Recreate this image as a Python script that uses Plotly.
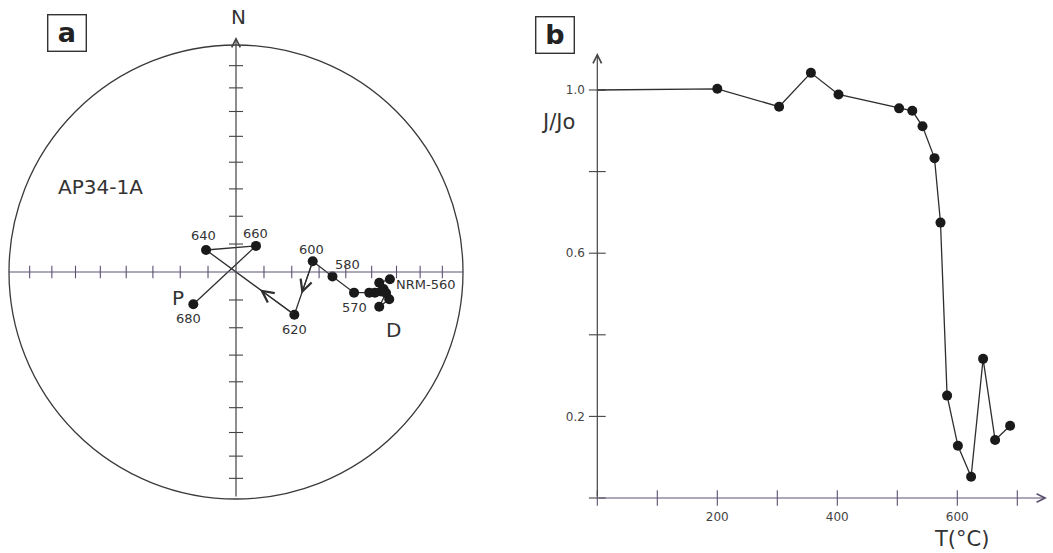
import numpy as np
import plotly.graph_objects as go

W, H = 1053, 553

# ---------------- Panel a : equal-area projection (unit radius) ----------------
steps_a = ["NRM", "200", "300", "350", "400", "500", "520", "540", "560",
           "570", "580", "600", "620", "640", "660", "680"]
east_a = [0.678, 0.631, 0.650, 0.675, 0.631, 0.661, 0.639, 0.612, 0.587,
          0.520, 0.425, 0.338, 0.257, -0.132, 0.088, -0.188]
north_a = [-0.032, -0.047, -0.075, -0.120, -0.153, -0.093, -0.086, -0.091, -0.091,
           -0.091, -0.020, 0.047, -0.188, 0.097, 0.115, -0.142]
label_steps_a = ["NRM", "570", "580", "600", "620", "640", "660", "680"]
label_text_a = ["NRM-560", "570", "580", "600", "620", "640", "660", "680"]
net_incl_ticks = [10, 20, 30, 40, 50, 60, 70, 80]
sample_name = "AP34-1A"

# ---------------- Panel b : normalised intensity vs temperature ----------------
temp_b = [0, 200, 303, 356, 402, 503, 525, 542, 562, 572, 583, 601, 623, 643, 663, 688]
jj0_b = [1.0, 1.003, 0.959, 1.042, 0.989, 0.955, 0.949, 0.911, 0.833, 0.675,
         0.251, 0.128, 0.052, 0.341, 0.142, 0.177]
xtick_vals_b = [0, 100, 200, 300, 400, 500, 600, 700]
xtick_text_b = ["", "", "200", "", "400", "", "600", ""]
ytick_vals_b = [0, 0.2, 0.4, 0.6, 0.8, 1.0]
ytick_text_b = ["", "0.2", "", "0.6", "", "1.0"]

# ---------------- geometry (pixels) ----------------
CX, CY, R = 236.0, 272.0, 227.0
A_RIGHT = 480.0
X0B, Y0B = 597.3, 498.0
PX_PER_C, PX_PER_J = 0.6, 408.0
B_TOP = 40.0

FONT = "DejaVu Sans"
INK = "#2e2e2e"
AXC = "#5c5070"
TXT = "#333333"


def px(x):
    return x / W


def py(y):
    return 1 - y / H


def da(xp, yp):
    return (xp - CX) / R, (CY - yp) / R


fig = go.Figure()

# net tick positions (equal-area)
r_ticks = [np.sqrt(2) * np.sin(np.radians((90 - i) / 2)) for i in net_incl_ticks]
tx = [s * r for r in r_ticks for s in (-1, 1)]

fig.add_trace(go.Scatter(x=tx, y=[0] * len(tx), mode="markers", cliponaxis=False,
                         marker=dict(symbol="line-ns", size=9, line=dict(width=1.1, color=AXC)),
                         xaxis="x", yaxis="y", hoverinfo="skip"))
fig.add_trace(go.Scatter(x=[0] * len(tx), y=tx, mode="markers", cliponaxis=False,
                         marker=dict(symbol="line-ew", size=10, line=dict(width=1.1, color="#444")),
                         xaxis="x", yaxis="y", hoverinfo="skip"))

# demag path
fig.add_trace(go.Scatter(x=east_a, y=north_a, mode="lines+markers", cliponaxis=False,
                         line=dict(color=INK, width=1.3),
                         marker=dict(size=10, color="#1a1a1a"),
                         xaxis="x", yaxis="y", hoverinfo="skip"))

# panel b ticks
fig.add_trace(go.Scatter(x=xtick_vals_b, y=[0] * len(xtick_vals_b), mode="markers", cliponaxis=False,
                         marker=dict(symbol="line-ns", size=11, line=dict(width=1.1, color=AXC)),
                         xaxis="x2", yaxis="y2", hoverinfo="skip"))
fig.add_trace(go.Scatter(x=[0] * len(ytick_vals_b), y=ytick_vals_b, mode="markers", cliponaxis=False,
                         marker=dict(symbol="line-ew", size=12, line=dict(width=1.1, color="#444")),
                         xaxis="x2", yaxis="y2", hoverinfo="skip"))
# panel b curve
fig.add_trace(go.Scatter(x=temp_b, y=jj0_b, mode="lines", cliponaxis=False,
                         line=dict(color=INK, width=1.3),
                         xaxis="x2", yaxis="y2", hoverinfo="skip"))
fig.add_trace(go.Scatter(x=temp_b[1:], y=jj0_b[1:], mode="markers", cliponaxis=False,
                         marker=dict(size=10, color="#1a1a1a"),
                         xaxis="x2", yaxis="y2", hoverinfo="skip"))

shapes = [
    dict(type="circle", xref="x", yref="y", x0=-1, x1=1, y0=-1, y1=1,
         line=dict(color="#3a3a3a", width=1.3)),
    dict(type="line", xref="x", yref="y", x0=-1, x1=1, y0=0, y1=0,
         line=dict(color=AXC, width=1.2)),
]

ann = []
# axis arrows
ann.append(dict(x=0, y=(CY - 37) / R, ax=0, ay=-0.996, xref="x", yref="y", axref="x", ayref="y",
                text="", showarrow=True, arrowhead=5, arrowsize=1.4, arrowwidth=1.2,
                arrowcolor="#444", standoff=0, startstandoff=0))
ann.append(dict(x=(1047 - X0B) / PX_PER_C, y=0, ax=0, ay=0, xref="x2", yref="y2", axref="x2", ayref="y2",
                text="", showarrow=True, arrowhead=5, arrowsize=1.4, arrowwidth=1.2,
                arrowcolor=AXC, standoff=0, startstandoff=0))
ann.append(dict(x=0, y=(Y0B - 53) / PX_PER_J, ax=0, ay=0, xref="x2", yref="y2", axref="x2", ayref="y2",
                text="", showarrow=True, arrowhead=5, arrowsize=1.4, arrowwidth=1.2,
                arrowcolor="#444", standoff=0, startstandoff=0))

# direction arrows along path
for i0, frac in ((11, 0.61), (12, 0.39)):
    xa, ya = east_a[i0], north_a[i0]
    xb, yb = east_a[i0 + 1], north_a[i0 + 1]
    ann.append(dict(x=xa + frac * (xb - xa), y=ya + frac * (yb - ya), ax=xa, ay=ya,
                    xref="x", yref="y", axref="x", ayref="y", text="", showarrow=True,
                    arrowhead=5, arrowsize=1.9, arrowwidth=1.2, arrowcolor=INK,
                    standoff=0, startstandoff=0))

# step labels
label_offsets = {"NRM": (4, -5, "left"), "570": (0, -15, "center"), "580": (15, 12, "center"),
                 "600": (-1, 12, "center"), "620": (0, -15, "center"), "640": (-3, 14, "center"),
                 "660": (0, 12, "center"), "680": (-5, -14, "center")}
for st, txt in zip(label_steps_a, label_text_a):
    i = steps_a.index(st)
    dx, dy, anc = label_offsets[st]
    ann.append(dict(x=east_a[i], y=north_a[i], xref="x", yref="y", text=txt, showarrow=False,
                    xshift=dx, yshift=dy, xanchor=anc, yanchor="middle",
                    font=dict(family=FONT, size=13, color=TXT)))

big = dict(family=FONT, size=20, color=TXT)
for txt, (xp, yp) in ((sample_name, (100, 187)), ("N", (238, 17)), ("P", (178, 298)), ("D", (393, 330))):
    x, y = da(xp, yp)
    ann.append(dict(x=x, y=y, xref="x", yref="y", text=txt, showarrow=False,
                    xanchor="center", yanchor="middle", font=big))

ann.append(dict(x=px(557.5), y=py(122), xref="paper", yref="paper", text="J/Jo", showarrow=False,
                xanchor="center", yanchor="middle", font=dict(family=FONT, size=21, color=TXT)))
ann.append(dict(x=px(961), y=py(539), xref="paper", yref="paper", text="T(°C)", showarrow=False,
                xanchor="center", yanchor="middle", font=dict(family=FONT, size=21, color=TXT)))

# panel letters
for txt, (xp, yp) in (("a", (66.5, 33.5)), ("b", (555, 35))):
    ann.append(dict(x=px(xp), y=py(yp), xref="paper", yref="paper", text="<b>%s</b>" % txt,
                    showarrow=False, xanchor="center", yanchor="middle",
                    width=35, height=33, borderpad=1, bordercolor="#333", borderwidth=1.4,
                    font=dict(family=FONT, size=27, color="#222")))

hidden = dict(showgrid=False, zeroline=False, showline=False, showticklabels=False, ticks="",
              fixedrange=True)

fig.update_layout(
    width=W, height=H, autosize=False,
    margin=dict(l=0, r=0, t=0, b=0, pad=0),
    paper_bgcolor="white", plot_bgcolor="rgba(0,0,0,0)",
    showlegend=False,
    xaxis=dict(domain=[0, A_RIGHT / W], range=[-CX / R, (A_RIGHT - CX) / R], **hidden),
    yaxis=dict(domain=[0, 1], range=[(CY - H) / R, CY / R], **hidden),
    xaxis2=dict(domain=[X0B / W, 1], range=[0, (W - X0B) / PX_PER_C], anchor="y2",
                showgrid=False, zeroline=False, showline=False, fixedrange=True,
                tickmode="array", tickvals=xtick_vals_b, ticktext=xtick_text_b,
                ticks="outside", ticklen=8, tickcolor="rgba(0,0,0,0)",
                tickfont=dict(family=FONT, size=12, color="#444")),
    yaxis2=dict(domain=[1 - Y0B / H, 1 - B_TOP / H], range=[0, (Y0B - B_TOP) / PX_PER_J], anchor="x2",
                showgrid=False, zeroline=False, showline=False, fixedrange=True,
                tickmode="array", tickvals=ytick_vals_b, ticktext=ytick_text_b,
                ticks="outside", ticklen=9, tickcolor="rgba(0,0,0,0)",
                tickfont=dict(family=FONT, size=12, color="#444")),
    shapes=shapes,
    annotations=ann,
)

fig.write_html("out.html")
